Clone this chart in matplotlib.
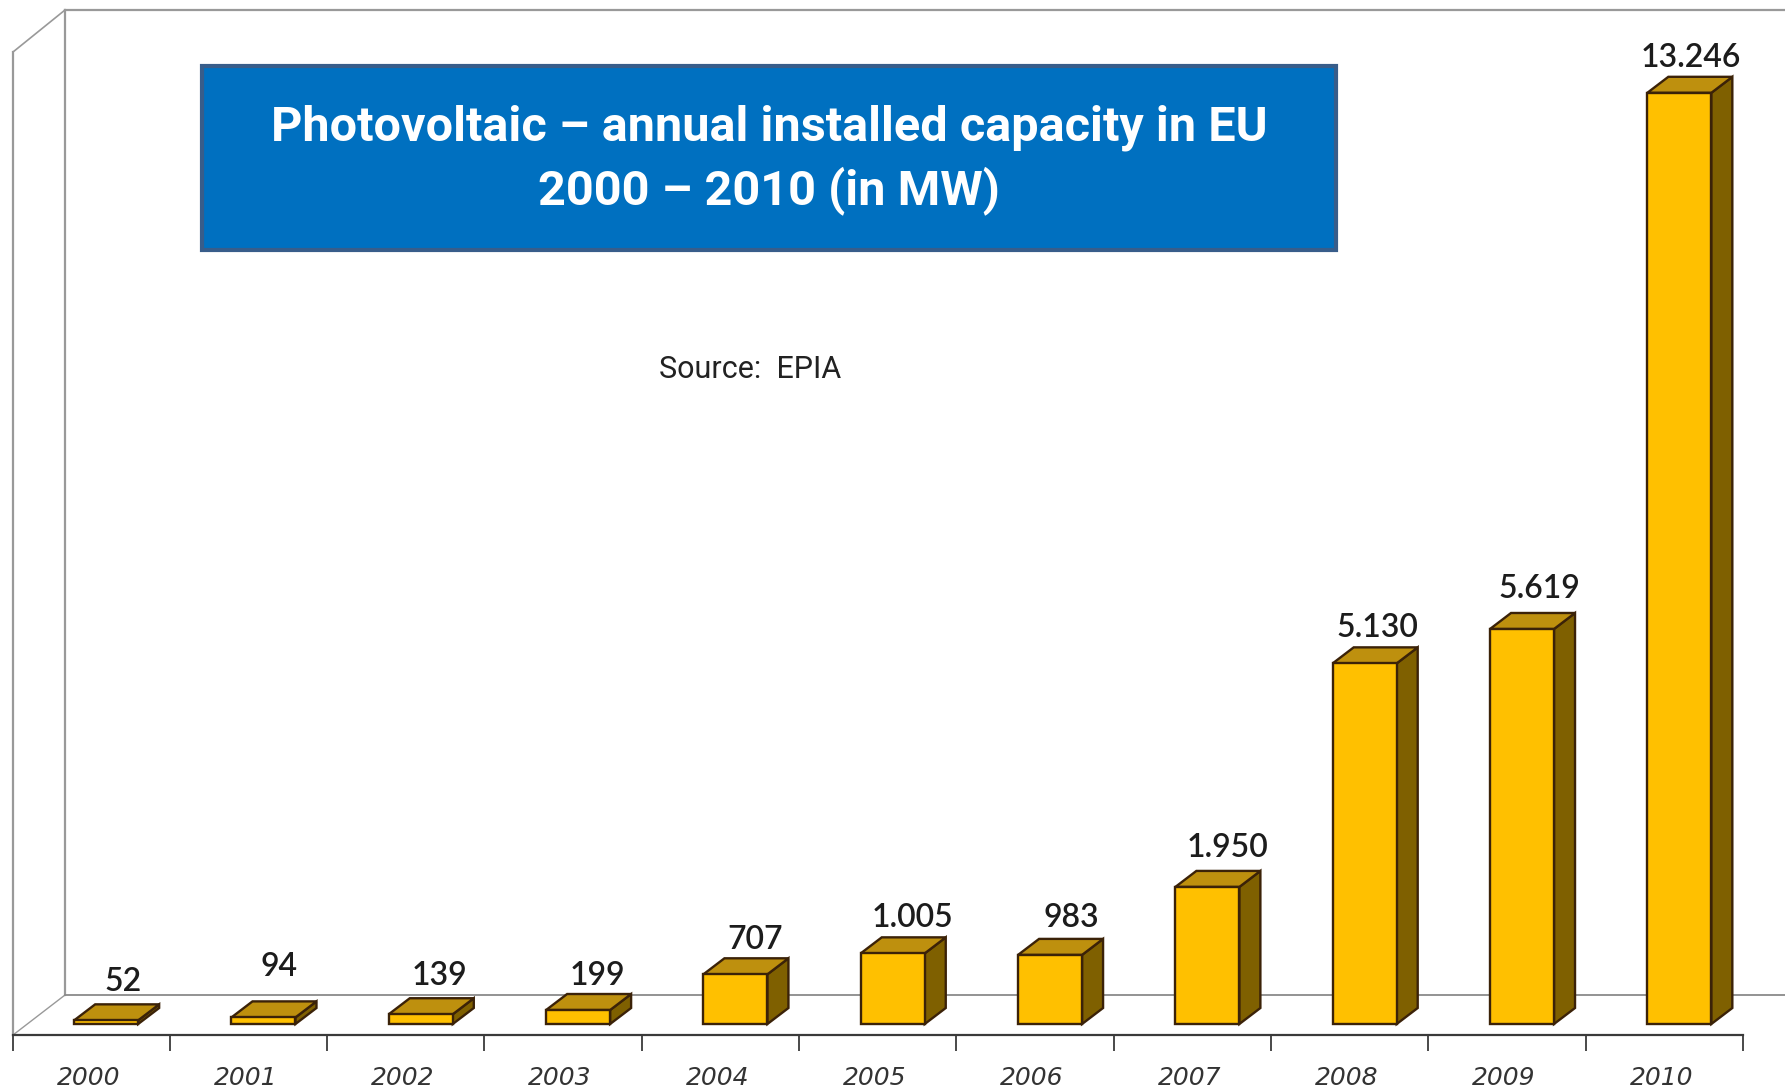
import matplotlib
matplotlib.use("Agg")
import matplotlib.pyplot as plt
from matplotlib.lines import Line2D
from matplotlib.patches import Polygon, Rectangle

years = ["2000", "2001", "2002", "2003", "2004", "2005", "2006", "2007", "2008", "2009", "2010"]
capacity = [52, 94, 139, 199, 707, 1005, 983, 1950, 5130, 5619, 13246]
value_labels = ["52", "94", "139", "199", "707", "1.005", "983", "1.950", "5.130", "5.619", "13.246"]
title_lines = ["Photovoltaic – annual installed capacity in EU", "2000 – 2010 (in MW)"]
source_text = "Source:  EPIA"

W, H = 1785, 1091
fig = plt.figure(figsize=(W / 100, H / 100), dpi=100, facecolor="white")

AX_L, AX_R, AX_BOTTOM = 12.5, 1743, 1035
PX_PER_MW = 0.0703
ax = fig.add_axes([AX_L / W, (H - AX_BOTTOM) / H, (AX_R - AX_L) / W, AX_BOTTOM / H])
ax.set_xlim(-0.5, 10.5)
ax.set_ylim(-11 / PX_PER_MW, 1024 / PX_PER_MW)
ax.patch.set_visible(False)
for s in ["top", "left", "right"]:
    ax.spines[s].set_visible(False)
ax.spines["bottom"].set_color("#3a3a3a")
ax.spines["bottom"].set_linewidth(1.6)
ax.set_yticks([])
PX_PER_X = (AX_R - AX_L) / 11
ax.set_xticks([i - 0.5 for i in range(12)])
ax.set_xticklabels([])
ax.tick_params(axis="x", which="major", length=11.5, width=1.3, color="#3a3a3a", direction="out")
ax.set_xticks([i - 3 / PX_PER_X for i in range(11)], minor=True)
ax.set_xticklabels(years, minor=True, fontsize=18, style="oblique", color="#333333", family="DejaVu Sans")
ax.tick_params(axis="x", which="minor", length=0, pad=22)


def fig_line(xs, ys, color="#999999", lw=1.6, z=0):
    fig.add_artist(Line2D([x / W for x in xs], [1 - y / H for y in ys], color=color, lw=lw, zorder=z))


# 3D walls and floor
fig_line([65, 65], [10, 995])
fig_line([65, W], [10, 10])
fig_line([13, 13], [52, 1035])
fig_line([13, 65], [52, 10], lw=1.2)
fig_line([13, 65], [1035, 995], lw=1.0)
fig_line([65, W], [995, 995], color="#8a8a8a", lw=1.3)

# bars
BAR_W = 64 / PX_PER_X
BAR_SHIFT = 15 / PX_PER_X
DX = 21 / PX_PER_X
DY = 16 / PX_PER_MW
EDGE = "#3b2208"
FRONT, TOP, SIDE = "#FFC000", "#BE900E", "#7F6000"
LW = 1.7
for i, v in enumerate(capacity):
    x0 = i + BAR_SHIFT - BAR_W / 2
    x1 = x0 + BAR_W
    ax.add_patch(Polygon([(x1, 0), (x1 + DX, DY), (x1 + DX, v + DY), (x1, v)],
                         facecolor=SIDE, edgecolor=EDGE, lw=LW, clip_on=False, zorder=3))
    ax.add_patch(Polygon([(x0, v), (x0 + DX, v + DY), (x1 + DX, v + DY), (x1, v)],
                         facecolor=TOP, edgecolor=EDGE, lw=LW, clip_on=False, zorder=3))
    ax.bar(i + BAR_SHIFT, v, width=BAR_W, color=FRONT, edgecolor=EDGE, linewidth=LW, zorder=4, clip_on=False)

# value labels (pixel nudges from the bar centre and top)
label_dx = [17, 16, 19, 19, 20, 20, 21, 20, 13, 17, 11]
label_dy = [38, 50, 38, 34, 34, 35, 37, 39, 35, 40, 35]
for i, (v, t) in enumerate(zip(capacity, value_labels)):
    ax.annotate(t, (i + BAR_SHIFT, v), xytext=(label_dx[i] * 0.72, label_dy[i] * 0.72),
                textcoords="offset points", ha="center", va="center",
                fontsize=23, family=["Lato", "DejaVu Sans"], weight="semibold", color="#1c1c1c",
                annotation_clip=False, zorder=6)

# title box
fig.add_artist(Rectangle((202 / W, 1 - 250 / H), 1134 / W, 184 / H, transform=fig.transFigure,
                         facecolor="#0070C0", edgecolor="#385D8A", lw=3, zorder=5))
for line, y in zip(title_lines, [128, 191]):
    fig.text(769 / W, 1 - y / H, line, ha="center", va="center", color="white", fontsize=35,
             weight="bold", family=["Roboto", "DejaVu Sans"], zorder=6)
fig.text(750 / W, 1 - 369 / H, source_text, ha="center", va="center", color="#222222", fontsize=22,
         family=["Roboto", "DejaVu Sans"], zorder=6)

fig.savefig("out.png", dpi=100)
